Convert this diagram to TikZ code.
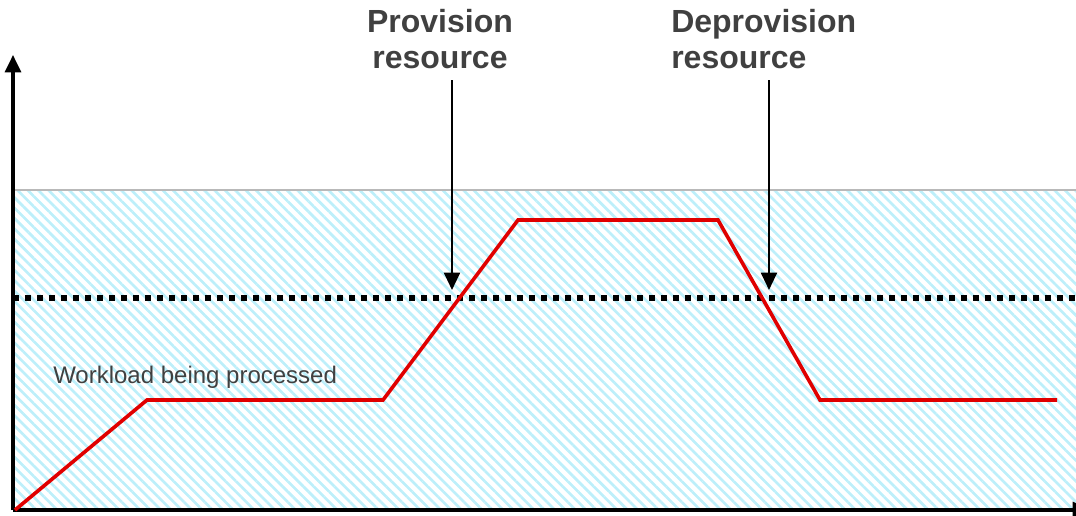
\documentclass[tikz,border=0pt]{standalone}
\usepackage{fontspec}
\setmainfont{Liberation Sans}
\usetikzlibrary{arrows.meta,patterns.meta}

\definecolor{labelgray}{HTML}{404040}
\definecolor{hatchcyan}{HTML}{BDEFFA}
\definecolor{loadred}{HTML}{E00000}

\tikzset{
  axis/.style={line width=2.4pt, -{Triangle[width=12pt,length=13pt]}},
  marker/.style={line width=1.5pt, -{Triangle[width=12pt,length=13pt]}},
  title/.style={font=\fontsize{24}{27}\selectfont\bfseries, text=labelgray, inner sep=0pt},
  load/.style={line width=2.7pt, loadred, line join=miter},
}

\begin{document}
\begin{tikzpicture}[x=0.75pt,y=-0.75pt]
\useasboundingbox (0,0) rectangle (1076,515);

% capacity band
\pattern[pattern={Lines[angle=-45,distance=5.5pt,line width=2pt]}, pattern color=hatchcyan]
  (13,190) rectangle (1076,510);
\draw[gray!55, line width=1.5pt] (13,190) -- (1076,190);

% threshold
\draw[line width=4.2pt, dash pattern=on 4.2pt off 4.8pt] (13,298) -- (1076,298);

% axes
\coordinate (o) at (13,510);
\draw[axis] (o) -- (13,55);
\draw[axis] (o) -- (1090,510);

% workload curve
\coordinate (w0) at (15,510);
\coordinate (w1) at (147,400);
\coordinate (w2) at (383,400);
\coordinate (w3) at (518,220);
\coordinate (w4) at (718,220);
\coordinate (w5) at (820,400);
\coordinate (w6) at (1057,400);
\draw[load] (w0) -- (w1) -- (w2) -- (w3) -- (w4) -- (w5) -- (w6);

\node[font=\fontsize{18}{21}\selectfont, text=labelgray, inner sep=0pt, anchor=west]
  (wl) at (53,377) {Workload being processed};

% events
\node[title, align=center] (prov) at (440,39) {Provision\\resource};
\node[title, align=left, anchor=west] (deprov) at (671,39) {Deprovision\\resource};
\coordinate (pt) at (452,290);
\coordinate (dt) at (769,290);
\draw[marker] (pt |- 0,80) -- (pt);
\draw[marker] (dt |- 0,80) -- (dt);

\end{tikzpicture}
\end{document}
